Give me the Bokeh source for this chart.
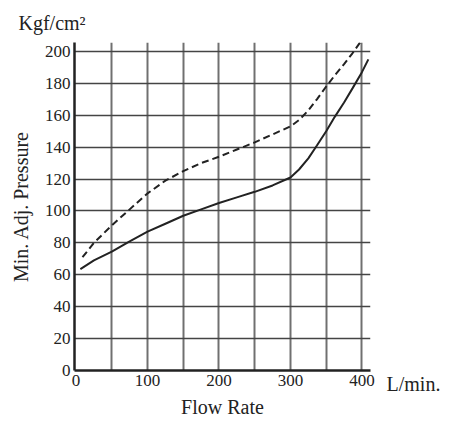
from bokeh.plotting import figure
from bokeh.models import FixedTicker, Range1d, Title, LinearAxis
from bokeh.embed import file_html
from bokeh.resources import INLINE

# Solid curve
flow_solid = [6, 25, 50, 75, 100, 125, 150, 175, 200, 225, 250, 275, 300, 312, 325, 337, 350, 362, 375, 387, 400, 409]
pres_solid = [63.5, 69, 74.5, 81, 87, 92, 97, 101, 105, 108.5, 112, 116, 121, 126, 133, 141, 150, 159, 168, 177, 187, 195]
# Dashed curve
flow_dash = [9, 25, 50, 75, 100, 125, 150, 175, 200, 225, 250, 275, 300, 312, 325, 337, 350, 362, 375, 387, 398]
pres_dash = [71, 80, 91, 101, 111, 119, 125, 130, 134, 138.5, 143, 148, 153, 157, 163, 170, 178, 185, 192, 199, 206]

x_ticks = [0, 100, 200, 300, 400]
x_grid = [50, 100, 150, 200, 250, 300, 350, 400]
y_ticks = [0, 20, 40, 60, 80, 100, 120, 140, 160, 180, 200]

FONT = "Liberation Serif"
INK = "#222222"

p = figure(width=448, height=420, output_backend="svg", toolbar_location=None,
           x_range=Range1d(-2.2, 412), y_range=Range1d(0, 205.6),
           min_border_left=74, min_border_right=78, min_border_top=42, min_border_bottom=47)
p.outline_line_color = None
p.background_fill_color = "white"

p.xaxis.ticker = FixedTicker(ticks=x_ticks)
p.yaxis.ticker = FixedTicker(ticks=y_ticks)
p.xgrid.ticker = FixedTicker(ticks=x_grid)
p.ygrid.ticker = FixedTicker(ticks=y_ticks)

p.xgrid.grid_line_color = "#707070"
p.xgrid.grid_line_width = 2
p.ygrid.grid_line_color = "#444444"
p.ygrid.grid_line_width = 1.6

for ax in (p.xaxis, p.yaxis):
    ax.axis_line_color = INK
    ax.axis_line_width = 2.5
    ax.major_tick_line_color = None
    ax.minor_tick_line_color = None
    ax.major_tick_out = 0
    ax.major_tick_in = 0
    ax.major_label_text_font = FONT
    ax.major_label_text_font_size = "17px"
    ax.major_label_text_color = INK
    ax.axis_label_text_font = FONT
    ax.axis_label_text_font_size = "20px"
    ax.axis_label_text_font_style = "normal"
    ax.axis_label_text_color = INK

p.xaxis.axis_label = "Flow Rate"
p.yaxis.axis_label = "Min. Adj. Pressure"
p.xaxis.major_label_standoff = 4
p.yaxis.major_label_standoff = 4
p.xaxis.axis_label_standoff = 7
p.yaxis.axis_label_standoff = 10

# unit label at the end of the x axis, as a tick label of a right-hand axis at y = 0
unit_axis = LinearAxis(ticker=FixedTicker(ticks=[0]), major_label_overrides={0: "\nL/min."})
unit_axis.axis_line_color = None
unit_axis.major_tick_line_color = None
unit_axis.minor_tick_line_color = None
unit_axis.major_tick_out = 0
unit_axis.major_tick_in = 0
unit_axis.major_label_standoff = 16
unit_axis.major_label_text_font = FONT
unit_axis.major_label_text_font_size = "20px"
unit_axis.major_label_text_color = INK
p.add_layout(unit_axis, "right")

p.line(flow_solid, pres_solid, line_color=INK, line_width=2)
p.line(flow_dash, pres_dash, line_color=INK, line_width=2, line_dash="7 4")

p.add_layout(Title(text="Kgf/cm²", align="left", vertical_align="top", offset=-56, standoff=14,
                   text_font=FONT, text_font_size="20px", text_font_style="normal",
                   text_line_height=0.6, text_color=INK), "above")

open("out.html", "w").write(file_html(p, INLINE))
